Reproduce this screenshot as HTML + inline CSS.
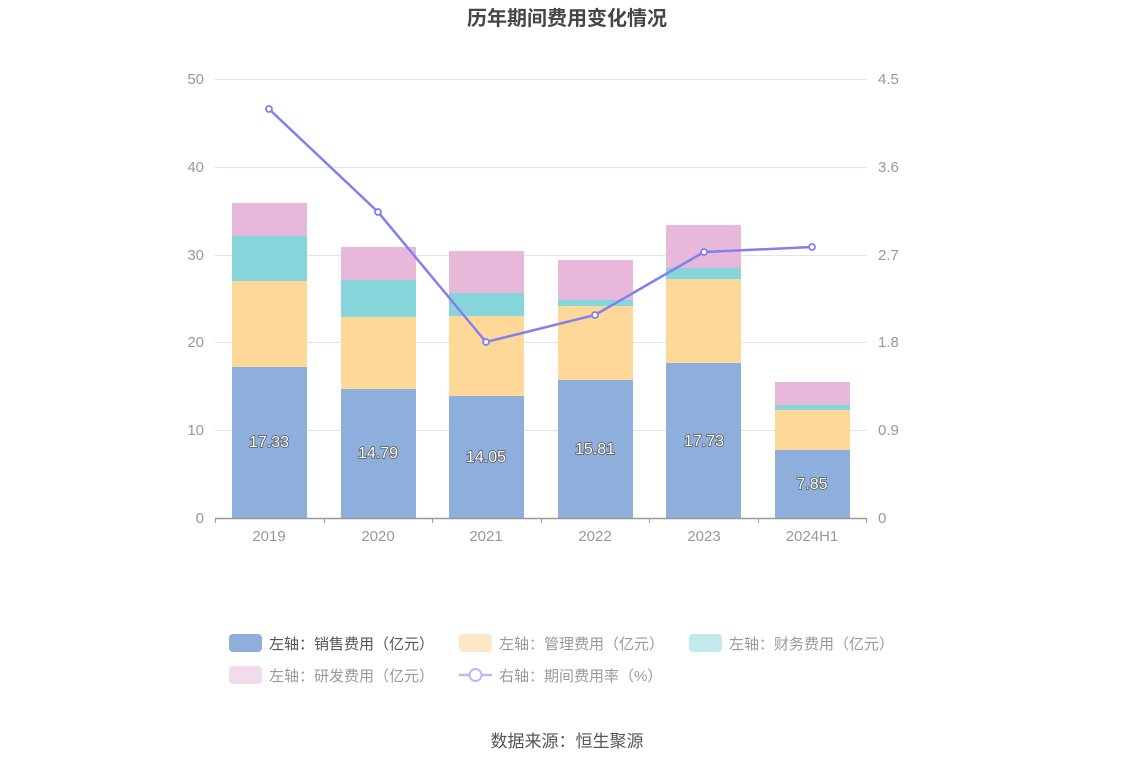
<!DOCTYPE html>
<html><head><meta charset="utf-8"><style>
body{margin:0;background:#fff;}
svg{display:block;font-family:"Liberation Sans","Noto Sans CJK SC",sans-serif;}
</style></head><body>
<svg width="1134" height="766" viewBox="0 0 1134 766">
<text x="567" y="25" text-anchor="middle" font-size="20" font-weight="bold" fill="#464646">历年期间费用变化情况</text>
<g stroke="#e0e3ef" stroke-width="1">
<line x1="215" y1="79.5" x2="867" y2="79.5"/><line x1="215" y1="167.5" x2="867" y2="167.5"/>
<line x1="215" y1="255.5" x2="867" y2="255.5"/><line x1="215" y1="342.5" x2="867" y2="342.5"/>
<line x1="215" y1="430.5" x2="867" y2="430.5"/>
</g>
<g font-size="15" fill="#999" text-anchor="end">
<text x="204" y="84">50</text><text x="204" y="172">40</text><text x="204" y="260">30</text>
<text x="204" y="347">20</text><text x="204" y="435">10</text><text x="204" y="523">0</text>
</g>
<g font-size="15" fill="#999" text-anchor="start">
<text x="878" y="84">4.5</text><text x="878" y="172">3.6</text><text x="878" y="260">2.7</text>
<text x="878" y="347">1.8</text><text x="878" y="435">0.9</text><text x="878" y="523">0</text>
</g>
<g>
<rect x="232" y="367" width="75" height="151" fill="#8eaedb"/><rect x="232" y="281" width="75" height="86" fill="#fed898"/><rect x="232" y="236" width="75" height="45" fill="#86d5da"/><rect x="232" y="203" width="75" height="33" fill="#e7b8da"/>
<rect x="341" y="389" width="75" height="129" fill="#8eaedb"/><rect x="341" y="317" width="75" height="72" fill="#fed898"/><rect x="341" y="280" width="75" height="37" fill="#86d5da"/><rect x="341" y="247" width="75" height="33" fill="#e7b8da"/>
<rect x="449" y="396" width="75" height="122" fill="#8eaedb"/><rect x="449" y="316" width="75" height="80" fill="#fed898"/><rect x="449" y="293" width="75" height="23" fill="#86d5da"/><rect x="449" y="251" width="75" height="42" fill="#e7b8da"/>
<rect x="558" y="380" width="75" height="138" fill="#8eaedb"/><rect x="558" y="306" width="75" height="74" fill="#fed898"/><rect x="558" y="300" width="75" height="6" fill="#86d5da"/><rect x="558" y="260" width="75" height="40" fill="#e7b8da"/>
<rect x="666" y="363" width="75" height="155" fill="#8eaedb"/><rect x="666" y="279" width="75" height="84" fill="#fed898"/><rect x="666" y="268" width="75" height="11" fill="#86d5da"/><rect x="666" y="225" width="75" height="43" fill="#e7b8da"/>
<rect x="775" y="450" width="75" height="68" fill="#8eaedb"/><rect x="775" y="410" width="75" height="40" fill="#fed898"/><rect x="775" y="405" width="75" height="5" fill="#86d5da"/><rect x="775" y="382" width="75" height="23" fill="#e7b8da"/>
</g>
<line x1="215" y1="518.5" x2="867" y2="518.5" stroke="#999" stroke-width="1.5"/>
<g stroke="#999"><line x1="215.5" y1="518" x2="215.5" y2="523"/><line x1="324.5" y1="518" x2="324.5" y2="523"/><line x1="432.5" y1="518" x2="432.5" y2="523"/><line x1="541.5" y1="518" x2="541.5" y2="523"/><line x1="649.5" y1="518" x2="649.5" y2="523"/><line x1="758.5" y1="518" x2="758.5" y2="523"/><line x1="866.5" y1="518" x2="866.5" y2="523"/></g>
<g font-size="15" fill="#999" text-anchor="middle">
<text x="269" y="541">2019</text><text x="378" y="541">2020</text><text x="486" y="541">2021</text><text x="595" y="541">2022</text><text x="704" y="541">2023</text><text x="812" y="541">2024H1</text>
</g>
<g font-size="16" fill="#fff" stroke="#555" stroke-width="1.5" paint-order="stroke" text-anchor="middle">
<text x="269" y="447">17.33</text><text x="378" y="458">14.79</text><text x="486" y="462">14.05</text><text x="595" y="454">15.81</text><text x="704" y="446">17.73</text><text x="812" y="489">7.85</text>
</g>
<polyline points="269,109 378,212 486,342 595,315 704,252 812,247" fill="none" stroke="#8080f0" stroke-width="2.5"/>
<g fill="#fff" stroke="#8080f0" stroke-width="1.8">
<circle cx="269" cy="109" r="3"/><circle cx="378" cy="212" r="3"/><circle cx="486" cy="342" r="3"/><circle cx="595" cy="315" r="3"/><circle cx="704" cy="252" r="3"/><circle cx="812" cy="247" r="3"/>
</g>
<g font-size="15" fill="#777">
<rect x="229" y="634" width="33" height="18" rx="4" fill="#8eaedb"/><text x="269" y="649" fill="#555">左轴：销售费用（亿元）</text>
<rect x="459" y="634" width="33" height="18" rx="4" fill="#fde8c6"/><text x="499" y="649" fill="#999">左轴：管理费用（亿元）</text>
<rect x="689" y="634" width="33" height="18" rx="4" fill="#c2e9ec"/><text x="729" y="649" fill="#999">左轴：财务费用（亿元）</text>
<rect x="229" y="666" width="33" height="18" rx="4" fill="#f2dbea"/><text x="269" y="681" fill="#999">左轴：研发费用（亿元）</text>
<line x1="459" y1="675" x2="492" y2="675" stroke="#b9b9f5" stroke-width="2.5"/><circle cx="475.5" cy="675" r="6" fill="#fff" stroke="#b9b9f5" stroke-width="2"/><text x="499" y="681" fill="#999">右轴：期间费用率（%）</text>
</g>
<text x="567" y="747" text-anchor="middle" font-size="17" fill="#555">数据来源：恒生聚源</text>
</svg>
</body></html>
